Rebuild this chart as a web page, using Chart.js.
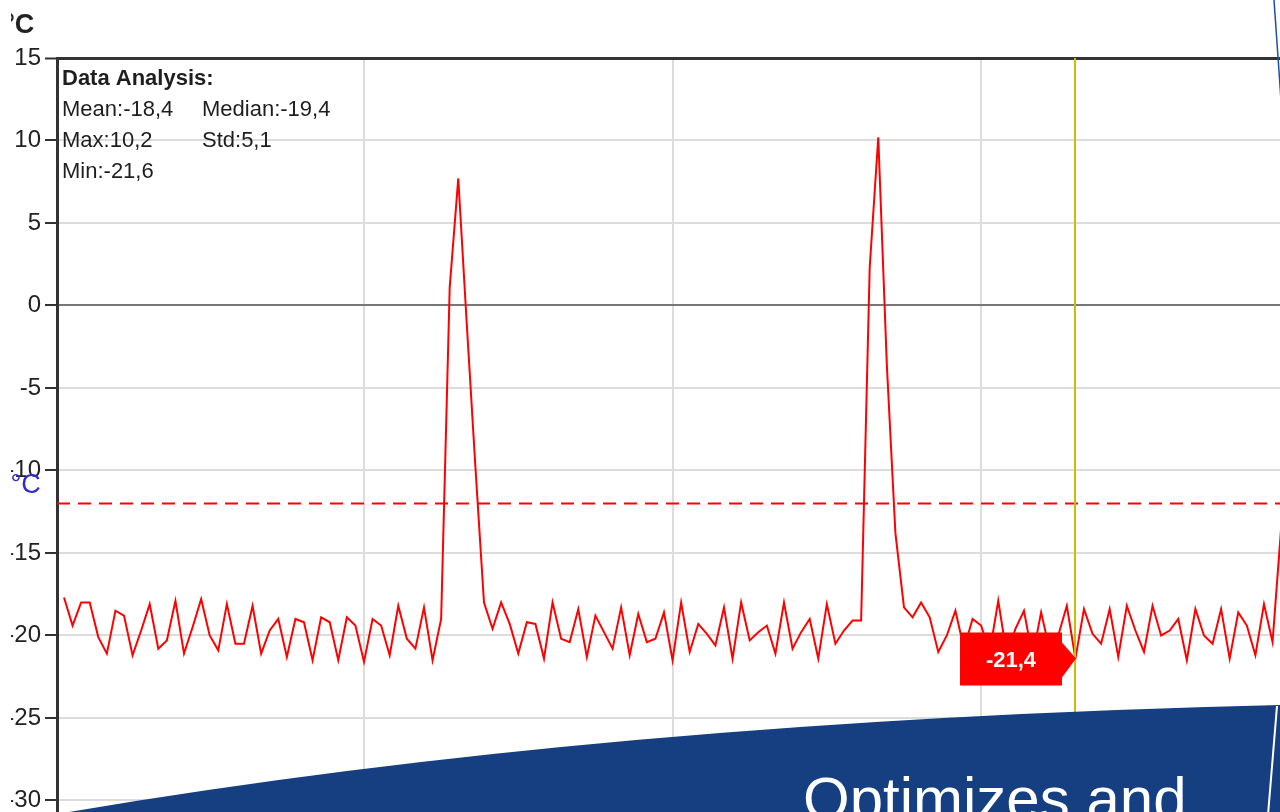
<!DOCTYPE html>
<html>
<head>
<meta charset="utf-8">
<script src="https://cdn.jsdelivr.net/npm/chart.js@4.4.1/dist/chart.umd.min.js"></script>
<style>
  html, body { margin: 0; padding: 0; background: #fff; overflow: hidden; }
  /* the source screenshot is cut a few px into its left margin */
  #wrap { position: absolute; left: 11px; top: 0; width: 1269px; height: 812px; overflow: hidden; }
  #myChart { position: absolute; left: -20px; top: 0; }
</style>
</head>
<body>
<div id="wrap"><canvas id="myChart" width="1289" height="812"></canvas></div>
<script>
// temperature samples (one per reading)
const temps = [
  -17.7, -19.4, -18.0, -18.0, -20.1, -21.1, -18.5, -18.8, -21.2, -19.7,
  -18.1, -20.8, -20.3, -17.9, -21.1, -19.5, -17.8, -20.0, -20.9, -18.1,
  -20.5, -20.5, -18.2, -21.1, -19.7, -19.0, -21.3, -19.0, -19.2, -21.5,
  -18.9, -19.2, -21.5, -18.9, -19.4, -21.6, -19.0, -19.4, -21.2, -18.2,
  -20.2, -20.8, -18.3, -21.5, -19.0, 1.1, 7.7, -1.2, -9.8, -18.0,
  -19.6, -18.0, -19.3, -21.1, -19.2, -19.3, -21.4, -18.0, -20.2, -20.4,
  -18.4, -21.3, -18.8, -19.8, -20.8, -18.3, -21.2, -18.7, -20.4, -20.2,
  -18.6, -21.5, -18.0, -21.0, -19.3, -19.9, -20.6, -18.3, -21.4, -18.0,
  -20.3, -19.8, -19.4, -21.1, -18.0, -20.8, -19.8, -19.0, -21.4, -18.1,
  -20.5, -19.7, -19.1, -19.1, 2.3, 10.2, -3.6, -13.8, -18.3, -18.9,
  -18.0, -18.9, -21.0, -20.0, -18.5, -20.8, -19.0, -19.4, -21.0, -17.9,
  -21.2, -19.6, -18.5, -21.3, -18.6, -20.9, -20.0, -18.2, -21.4, -18.4,
  -19.9, -20.5, -18.4, -21.3, -18.2, -19.7, -21.0, -18.2, -20.0, -19.7,
  -19.0, -21.5, -18.4, -20.0, -20.5, -18.4, -21.4, -18.6, -19.4, -21.2,
  -18.1, -20.4, -13.5
];
const yTicks = [15, 10, 5, 0, -5, -10, -15, -20, -25, -30];
const xGridTicks = [35, 71, 107];
const threshold = -12;
const cursorIndex = 118;
const unitLabel = "°C";
const statsTitle = "Data Analysis:";
const statsLeft = ["Mean:-18,4", "Max:10,2", "Min:-21,6"];
const statsRight = ["Median:-19,4", "Std:5,1"];
const bannerText = "Optimizes and";

const FONT = '"Liberation Sans", Arial, sans-serif';
const CROP = 9; // canvas x of page x 0
const cxt = document.querySelector("#myChart");

const overlay = {
  id: "overlay",
  afterDatasetsDraw(chart) {
    const { ctx, chartArea: a, scales: { x, y } } = chart;
    ctx.save();

    // cursor line
    const cx = Math.round(x.getPixelForValue(cursorIndex));
    ctx.strokeStyle = "#c8bf00";
    ctx.lineWidth = 2;
    ctx.beginPath();
    ctx.moveTo(cx, a.top);
    ctx.lineTo(cx, a.bottom);
    ctx.stroke();

    // value flag pointing at the cursor sample
    const tx = cx + 1;
    const ty = y.getPixelForValue(temps[cursorIndex]);
    const l = tx - 116, r = tx - 14;
    ctx.fillStyle = "#ff0000";
    ctx.beginPath();
    ctx.moveTo(l, ty - 26);
    ctx.lineTo(r, ty - 26);
    ctx.lineTo(r, ty - 16);
    ctx.lineTo(tx, ty);
    ctx.lineTo(r, ty + 19);
    ctx.lineTo(r, ty + 27);
    ctx.lineTo(l, ty + 27);
    ctx.closePath();
    ctx.fill();
    ctx.fillStyle = "#fff";
    ctx.font = "bold 22px " + FONT;
    ctx.textAlign = "center";
    ctx.textBaseline = "middle";
    ctx.fillText(temps[cursorIndex].toFixed(1).replace(".", ","), (l + r) / 2, ty + 2);

    // stats block
    ctx.fillStyle = "#1e1e1e";
    ctx.textAlign = "left";
    ctx.textBaseline = "alphabetic";
    ctx.font = "bold 22px " + FONT;
    ctx.fillText(statsTitle, a.left + 5, 85);
    ctx.font = "22px " + FONT;
    statsLeft.forEach((s, i) => ctx.fillText(s, a.left + 5, 116 + i * 31));
    statsRight.forEach((s, i) => ctx.fillText(s, a.left + 145, 116 + i * 31));

    // unit titles
    ctx.font = "bold 27px " + FONT;
    ctx.fillStyle = "#222";
    ctx.fillText(unitLabel, 4 + CROP, 33);
    ctx.font = "27px " + FONT;
    ctx.fillStyle = "#2c2cd0";
    ctx.fillText(unitLabel, 10.5 + CROP, 493);
    ctx.restore();
  },
  afterDraw(chart) {
    const { ctx } = chart;
    ctx.save();
    ctx.translate(CROP, 0);
    // slide banner swoosh
    ctx.fillStyle = "#153f80";
    ctx.beginPath();
    ctx.moveTo(40, 817);
    ctx.quadraticCurveTo(590, 721, 1282, 705);
    ctx.lineTo(1282, 815);
    ctx.closePath();
    ctx.fill();
    ctx.strokeStyle = "#ffffff";
    ctx.lineWidth = 2;
    ctx.beginPath();
    ctx.moveTo(1277, 706);
    ctx.lineTo(1268, 815);
    ctx.stroke();
    ctx.strokeStyle = "#2050a0";
    ctx.lineWidth = 1.5;
    ctx.beginPath();
    ctx.moveTo(1274, 0);
    ctx.lineTo(1281, 100);
    ctx.stroke();
    ctx.fillStyle = "#fff";
    ctx.font = "60px " + FONT;
    ctx.textAlign = "left";
    ctx.fillText(bannerText, 803, 819);
    ctx.restore();
  }
};

const config = {
  type: "line",
  data: {
    datasets: [
      {
        label: "Temperature",
        data: temps.map((v, i) => ({ x: i, y: v })),
        borderColor: "#ff0000",
        borderWidth: 2,
        pointRadius: 0,
        tension: 0,
      },
      {
        label: "Limit",
        data: [{ x: -0.817, y: threshold }, { x: 141.87, y: threshold }],
        borderColor: "#ff0000",
        borderWidth: 2,
        borderDash: [13, 8],
        pointRadius: 0,
      },
    ],
  },
  options: {
    responsive: false,
    animation: false,
    layout: { padding: { top: 58, left: 0, right: 0, bottom: 0 } },
    plugins: { legend: { display: false }, tooltip: { enabled: false } },
    scales: {
      x: {
        type: "linear",
        min: -0.817,
        max: 141.87,
        afterBuildTicks: (s) => { s.ticks = xGridTicks.map((v) => ({ value: v })); },
        afterFit: (s) => { s.height = 0; s.paddingLeft = 0; s.paddingRight = 0; },
        ticks: { display: false },
        grid: { color: "#dcdcdc", lineWidth: 2, drawTicks: false },
        border: { display: false },
      },
      y: {
        min: -30.7,
        max: 15,
        afterBuildTicks: (s) => { s.ticks = yTicks.map((v) => ({ value: v })); },
        afterFit: (s) => { s.width = 57 + CROP; s.paddingTop = 0; s.paddingBottom = 0; },
        ticks: { color: "#222", font: { family: FONT, size: 24 }, padding: 4 },
        grid: {
          color: (c) => (c.tick && c.tick.value === 15 ? "#333" : c.tick && c.tick.value === 0 ? "#777" : "#dcdcdc"),
          lineWidth: (c) => (c.tick && c.tick.value === 15 ? 3 : 2),
          tickColor: "#333",
          tickLength: 12,
          tickWidth: 2,
        },
        border: { color: "#333", width: 3 },
      },
    },
  },
  plugins: [overlay],
};

new Chart(cxt, config);
</script>
</body>
</html>
